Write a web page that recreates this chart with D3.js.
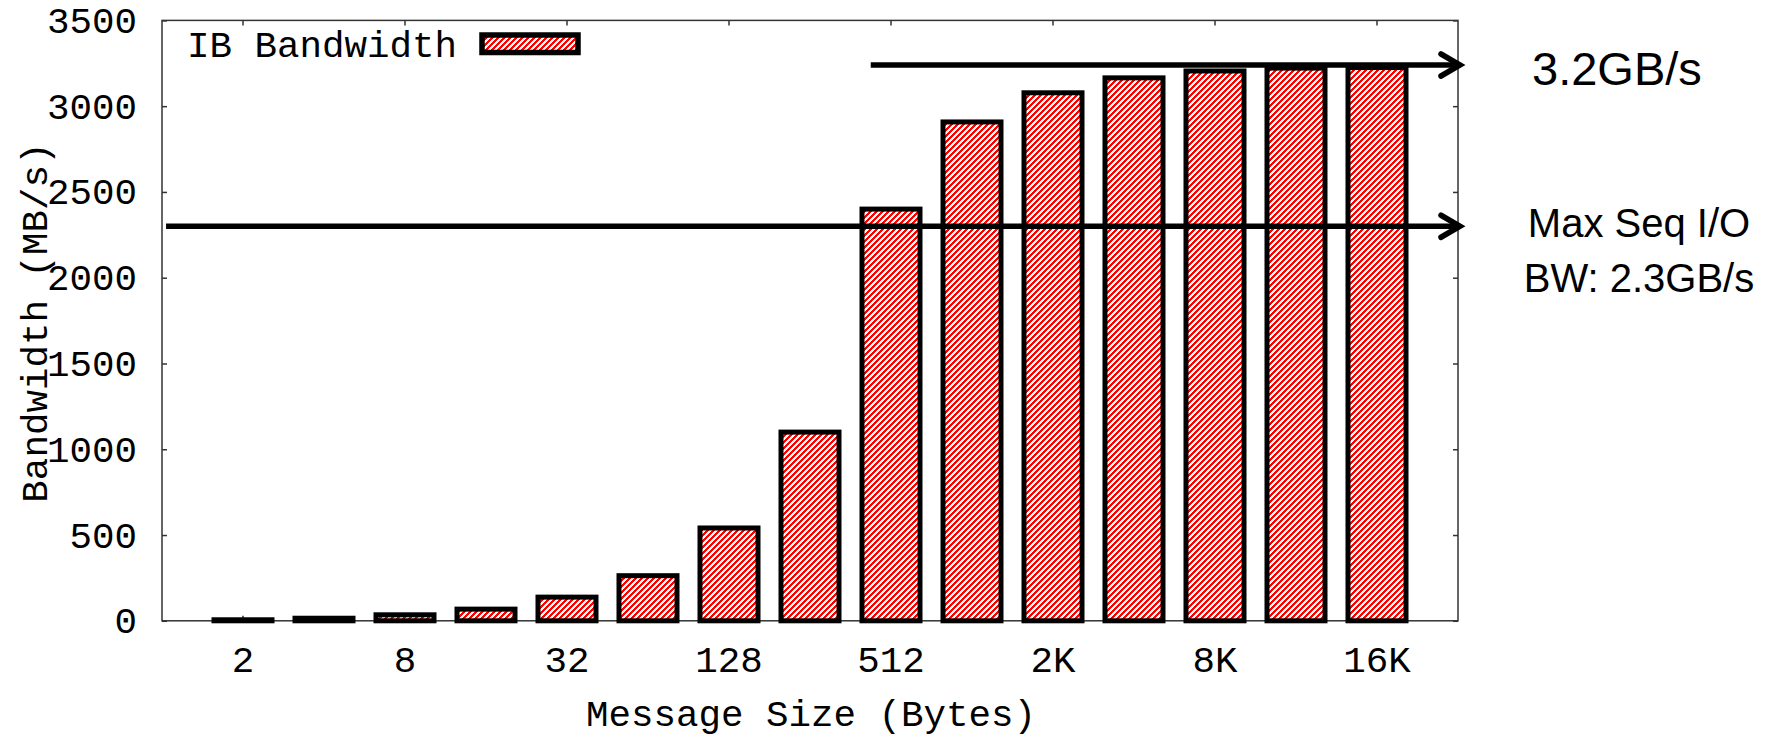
<!DOCTYPE html>
<html>
<head>
<meta charset="utf-8">
<script src="https://cdn.jsdelivr.net/npm/d3@7"></script>
<style>
  html, body { margin: 0; padding: 0; background: #fff; }
  svg { display: block; }
</style>
</head>
<body>
<svg id="chart" width="1773" height="737"></svg>
<script>
// InfiniBand bandwidth by message size
const sizes = ["2", "4", "8", "16", "32", "64", "128", "256", "512", "1K", "2K", "4K", "8K", "16K", "32K"];
const bandwidth = [6, 15, 35, 68, 138, 263, 541, 1100, 2400, 2908, 3078, 3165, 3205, 3222, 3225];
const xTickLabels = ["2", "", "8", "", "32", "", "128", "", "512", "", "2K", "", "8K", "", "16K"];
const yTicks = [0, 500, 1000, 1500, 2000, 2500, 3000, 3500];

// Reference levels drawn as arrows towards the right edge
const refValues = [3240, 2300];
const refStartIndex = [7.75, -0.95];   // start of each arrow, in bar-index units
const refLabels = [["3.2GB/s"], ["Max Seq I/O", "BW: 2.3GB/s"]];

const legendLabel = "IB Bandwidth";
const xTitle = "Message Size (Bytes)";
const yTitle = "Bandwidth (MB/s)";

const MONO = "'Liberation Mono', 'DejaVu Sans Mono', monospace";
const SANS = "'Liberation Sans', Arial, sans-serif";

const svg = d3.select("#chart");
const L = 162, R = 1458, T = 20.4, B = 620.8;

const x = d3.scaleBand().domain(sizes).range([L, R])
  .paddingInner(0.284).paddingOuter(0.642);
const xi = d3.scaleLinear().domain([-1, sizes.length]).range([L, R]);
const y = d3.scaleLinear().domain([0, 3500]).range([B, T]);

// hatch fill: red "/" stripes on white, pixel-aligned tile
const defs = svg.append("defs");
const pat = defs.append("pattern")
  .attr("id", "hatch")
  .attr("patternUnits", "userSpaceOnUse")
  .attr("width", 6).attr("height", 6);
pat.append("rect").attr("width", 6).attr("height", 6).attr("fill", "#fff");
pat.append("path")
  .attr("d", "M0,0L3,0L0,3Z M6,0L6,3L3,6L0,6Z")
  .attr("fill", "#ff0000")
  .attr("shape-rendering", "crispEdges");

svg.append("rect").attr("width", 1773).attr("height", 737).attr("fill", "#fff");

// frame
svg.append("rect")
  .attr("x", L).attr("y", T).attr("width", R - L).attr("height", B - T)
  .attr("fill", "none").attr("stroke", "#333").attr("stroke-width", 1.5);

const labelled = sizes.filter((s, i) => xTickLabels[i] !== "");

// axes
const yAxis = svg.append("g").attr("transform", `translate(${L},0)`)
  .call(d3.axisLeft(y).tickValues(yTicks).tickSize(-5).tickPadding(25).tickFormat(d3.format("d")));
const yAxisR = svg.append("g").attr("transform", `translate(${R},0)`)
  .call(d3.axisRight(y).tickValues(yTicks).tickSize(-5).tickFormat(""));
const xAxisT = svg.append("g").attr("transform", `translate(0,${T})`)
  .call(d3.axisTop(x).tickValues(labelled).tickSize(-5).tickFormat(""));
const xAxisB = svg.append("g").attr("transform", `translate(0,${B})`)
  .call(d3.axisBottom(x).tickValues(labelled).tickSize(-5).tickPadding(25)
    .tickFormat(d => xTickLabels[sizes.indexOf(d)]));

[yAxis, yAxisR, xAxisT, xAxisB].forEach(g => {
  g.select(".domain").remove();
  g.selectAll(".tick line").attr("stroke", "#333").attr("stroke-width", 1.5);
  g.selectAll("text").attr("font-family", MONO).attr("font-size", 37.5).attr("fill", "#000");
});

// bars
svg.append("g").selectAll("rect").data(bandwidth).join("rect")
  .attr("x", (d, i) => x(sizes[i]))
  .attr("width", x.bandwidth())
  .attr("y", d => y(d))
  .attr("height", d => y(0) - y(d))
  .attr("fill", "url(#hatch)")
  .attr("stroke", "#000")
  .attr("stroke-width", 5);

// reference arrows
const arrows = svg.append("g");
refValues.forEach((v, k) => {
  const yy = y(v), tip = R + 2;
  arrows.append("line")
    .attr("x1", xi(refStartIndex[k])).attr("x2", tip - 2)
    .attr("y1", yy).attr("y2", yy)
    .attr("stroke", "#000").attr("stroke-width", 5.5);
  arrows.append("path")
    .attr("d", `M${tip - 19},${yy - 11}L${tip},${yy}L${tip - 19},${yy + 11}`)
    .attr("fill", "none").attr("stroke", "#000").attr("stroke-width", 5.5)
    .attr("stroke-linecap", "round").attr("stroke-linejoin", "miter");
});

// annotation text
svg.append("text")
  .attr("x", 1532).attr("y", 85)
  .attr("font-family", SANS).attr("font-size", 47)
  .text(refLabels[0][0]);
svg.append("text")
  .attr("font-family", SANS).attr("font-size", 40).attr("text-anchor", "middle")
  .selectAll("tspan").data(refLabels[1]).join("tspan")
  .attr("x", 1639).attr("y", (d, i) => 236.7 + i * 55)
  .text(d => d);

// legend
svg.append("text")
  .attr("x", 187).attr("y", 56.5)
  .attr("font-family", MONO).attr("font-size", 37.5)
  .text(legendLabel);
svg.append("rect")
  .attr("x", 482).attr("y", 35).attr("width", 96).attr("height", 17.5)
  .attr("fill", "url(#hatch)").attr("stroke", "#000").attr("stroke-width", 5.5);

// axis titles
svg.append("text")
  .attr("x", (L + R) / 2 + 1).attr("y", 726)
  .attr("text-anchor", "middle")
  .attr("font-family", MONO).attr("font-size", 37.5)
  .text(xTitle);
svg.append("text")
  .attr("transform", `translate(47,${(T + B) / 2 + 2}) rotate(-90)`)
  .attr("text-anchor", "middle")
  .attr("font-family", MONO).attr("font-size", 37.5)
  .text(yTitle);
</script>
</body>
</html>
